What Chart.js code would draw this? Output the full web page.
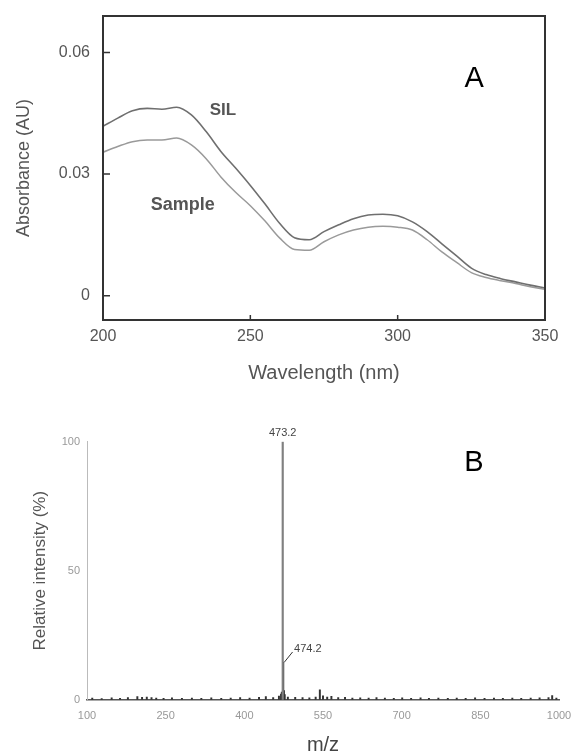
<!DOCTYPE html>
<html>
<head>
<meta charset="utf-8">
<script src="https://cdn.jsdelivr.net/npm/chart.js@4.4.1/dist/chart.umd.min.js"></script>
<style>
  html, body { margin: 0; padding: 0; background: #fff; overflow: hidden; }
  #boxA { position: absolute; left: 0; top: 0; width: 574px; height: 390px; }
  #boxB { position: absolute; left: 0; top: 390px; width: 574px; height: 373px; }
</style>
</head>
<body>
<div id="boxA"><canvas id="chartA"></canvas></div>
<div id="boxB"><canvas id="chartB"></canvas></div>
<script>
// Panel A - UV spectra
const wavelength = [200, 205, 210, 215, 220, 225, 230, 235, 240, 245, 250, 255, 260, 265, 270, 275,
                    280, 285, 290, 295, 300, 305, 310, 315, 320, 325, 330, 335, 340, 345, 350];
const silAbs = [0.0418, 0.0438, 0.0456, 0.0462, 0.0460, 0.0465, 0.0446, 0.0405, 0.0356, 0.0315, 0.0272,
                0.0226, 0.0178, 0.0143, 0.0138, 0.0158, 0.0175, 0.0190, 0.0199, 0.0201, 0.0197, 0.0182,
                0.0158, 0.0128, 0.0098, 0.0068, 0.0052, 0.0042, 0.0034, 0.0026, 0.0019];
const sampleAbs = [0.0354, 0.0368, 0.0380, 0.0384, 0.0384, 0.0389, 0.0372, 0.0338, 0.0293, 0.0255, 0.0222,
                   0.0184, 0.0142, 0.0114, 0.0112, 0.0133, 0.0150, 0.0162, 0.0169, 0.0171, 0.0169, 0.0162,
                   0.0138, 0.0108, 0.0082, 0.0057, 0.0045, 0.0037, 0.0030, 0.0022, 0.0016];
const absTicks = [0, 0.03, 0.06];

// Panel B - mass spectrum
const basePeakMz = [473.2];
const basePeakInt = [100];
const ionMz = [110, 128, 147, 163, 178, 196, 205, 214, 223, 232, 246, 262, 281, 300, 318, 337, 356, 374,
               392, 410, 428, 441, 455, 466, 470, 471.5, 474.2, 475.5, 477, 483, 497, 511, 524, 536, 544,
               550, 558, 566, 579, 592, 606, 621, 637, 652, 668, 685, 701, 718, 736, 752, 770, 788, 805,
               822, 840, 858, 876, 893, 911, 928, 946, 963, 980, 987, 995];
const ionInt = [0.6, 0.4, 0.7, 0.5, 0.8, 1.2, 0.9, 1.0, 0.8, 0.6, 0.5, 0.7, 0.5, 0.6, 0.5, 0.7, 0.5, 0.6,
                0.8, 0.6, 0.9, 1.2, 0.8, 1.4, 2.2, 3.0, 14.5, 3.5, 2.0, 1.0, 0.9, 0.8, 0.7, 1.0, 3.8,
                1.5, 1.0, 1.3, 0.8, 0.9, 0.6, 0.7, 0.6, 0.8, 0.6, 0.5, 0.7, 0.5, 0.7, 0.5, 0.6, 0.5, 0.6,
                0.5, 0.7, 0.5, 0.6, 0.5, 0.6, 0.5, 0.6, 0.7, 0.8, 1.6, 0.6];

const fuente = 'Arial, "Liberation Sans", sans-serif';

// text placed in data coordinates
const notasA = [
  { text: 'A', x: 326, y: 0.0534, size: 29, weight: 'normal', color: '#000' },
  { text: 'SIL', x: 240.7, y: 0.0458, size: 17, weight: 'bold', color: '#555' },
  { text: 'Sample', x: 227.1, y: 0.0224, size: 18, weight: 'bold', color: '#555' }
];
const notasB = [
  { text: 'B', x: 838, y: 91.7, size: 29, weight: 'normal', color: '#000' },
  { text: '473.2', x: 473.2, y: 100, dy: -9, size: 11, weight: 'normal', color: '#444' },
  { text: '474.2', x: 521, y: 19.6, size: 11, weight: 'normal', color: '#444' }
];

// no extra padding from tick labels: keep the plot area where the layout puts it
function sinRelleno(s) {
  s.paddingTop = 0;
  s.paddingBottom = 0;
  s.paddingLeft = 0;
  s.paddingRight = 0;
}

function escribir(chart, notas) {
  const {ctx, scales: {x, y}} = chart;
  ctx.save();
  ctx.textAlign = 'center';
  ctx.textBaseline = 'middle';
  notas.forEach(n => {
    ctx.font = n.weight + ' ' + n.size + 'px ' + fuente;
    ctx.fillStyle = n.color;
    ctx.fillText(n.text, x.getPixelForValue(n.x), y.getPixelForValue(n.y) + (n.dy || 0));
  });
  ctx.restore();
}

const marcoA = {
  id: 'marcoA',
  afterDatasetsDraw(chart) {
    const {ctx, chartArea: a, scales: {x, y}} = chart;
    ctx.save();
    ctx.strokeStyle = '#333';
    ctx.lineWidth = 2;
    ctx.strokeRect(a.left, a.top, a.right - a.left, a.bottom - a.top);
    ctx.lineWidth = 1.5;
    ctx.beginPath();
    y.ticks.forEach(t => {
      const py = y.getPixelForValue(t.value);
      ctx.moveTo(a.left, py);
      ctx.lineTo(a.left + 7, py);
    });
    x.ticks.forEach(t => {
      const px = x.getPixelForValue(t.value);
      ctx.moveTo(px, a.bottom);
      ctx.lineTo(px, a.bottom - 5);
    });
    ctx.stroke();
    ctx.restore();
    escribir(chart, notasA);
  }
};

const notasPluginB = {
  id: 'notasB',
  afterDatasetsDraw(chart) {
    const {ctx, scales: {x, y}} = chart;
    // leader line for 474.2
    ctx.save();
    ctx.strokeStyle = '#333';
    ctx.lineWidth = 1;
    ctx.beginPath();
    ctx.moveTo(x.getPixelForValue(474.2) + 1, y.getPixelForValue(14.5));
    ctx.lineTo(x.getPixelForValue(492), y.getPixelForValue(18.5));
    ctx.stroke();
    ctx.restore();
    escribir(chart, notasB);
  }
};

new Chart(document.getElementById('chartA'), {
  type: 'line',
  data: {
    datasets: [
      {
        label: 'SIL',
        data: wavelength.map((w, i) => ({ x: w, y: silAbs[i] })),
        borderColor: '#6f6f6f',
        borderWidth: 1.6,
        pointRadius: 0,
        cubicInterpolationMode: 'monotone'
      },
      {
        label: 'Sample',
        data: wavelength.map((w, i) => ({ x: w, y: sampleAbs[i] })),
        borderColor: '#9a9a9a',
        borderWidth: 1.5,
        pointRadius: 0,
        cubicInterpolationMode: 'monotone'
      }
    ]
  },
  options: {
    responsive: true,
    maintainAspectRatio: false,
    animation: false,
    layout: { padding: { left: 0, right: 29, top: 16, bottom: 0 } },
    plugins: { legend: { display: false }, tooltip: { enabled: false } },
    scales: {
      x: {
        type: 'linear',
        min: 200,
        max: 350,
        ticks: { stepSize: 50, padding: 7, color: '#555', font: { family: fuente, size: 16 } },
        grid: { display: false, drawTicks: false },
        border: { display: false },
        title: { display: true, text: 'Wavelength (nm)', color: '#555', padding: { top: 0, bottom: 5 },
                 font: { family: fuente, size: 20 } },
        afterFit: s => { s.height = 70; sinRelleno(s); }
      },
      y: {
        min: -0.006,
        max: 0.069,
        afterBuildTicks: s => { s.ticks = absTicks.map(v => ({ value: v })); },
        ticks: { padding: 13, color: '#555', font: { family: fuente, size: 16 },
                 callback: v => (v === 0 ? '0' : v.toFixed(2)) },
        grid: { display: false, drawTicks: false },
        border: { display: false },
        title: { display: true, text: 'Absorbance (AU)', color: '#555', padding: { top: 13, bottom: 0 },
                 font: { family: fuente, size: 18 } },
        afterFit: s => { s.width = 103; sinRelleno(s); }
      }
    }
  },
  plugins: [marcoA]
});

new Chart(document.getElementById('chartB'), {
  type: 'bar',
  data: {
    datasets: [
      {
        label: 'base peak',
        data: basePeakMz.map((m, i) => ({ x: m, y: basePeakInt[i] })),
        backgroundColor: '#808080',
        barThickness: 1.5,
        grouped: false
      },
      {
        label: 'ions',
        data: ionMz.map((m, i) => ({ x: m, y: ionInt[i] })),
        backgroundColor: '#333',
        barThickness: 1.3,
        grouped: false
      }
    ]
  },
  options: {
    responsive: true,
    maintainAspectRatio: false,
    animation: false,
    layout: { padding: { left: 0, right: 15, top: 51.7, bottom: 0 } },
    plugins: { legend: { display: false }, tooltip: { enabled: false } },
    scales: {
      x: {
        type: 'linear',
        offset: false,
        min: 100,
        max: 1000,
        ticks: { stepSize: 150, padding: 10, color: '#999', maxRotation: 0, font: { family: fuente, size: 11 },
                 callback: v => String(v) },
        grid: { display: false, drawTicks: false },
        border: { display: true, color: '#555', width: 1.6, dash: [3, 2] },
        title: { display: true, text: 'm/z', color: '#444', padding: { top: 0, bottom: 6 },
                 font: { family: fuente, size: 20 } },
        afterFit: s => { s.height = 63.3; sinRelleno(s); }
      },
      y: {
        min: 0,
        max: 100,
        ticks: { stepSize: 50, padding: 7, color: '#999', font: { family: fuente, size: 11 } },
        grid: { display: false, drawTicks: false },
        border: { display: true, color: '#bbb', width: 1 },
        title: { display: true, text: 'Relative intensity (%)', color: '#555', padding: { top: 30, bottom: 0 },
                 font: { family: fuente, size: 17 } },
        afterFit: s => { s.width = 87; sinRelleno(s); }
      }
    }
  },
  plugins: [notasPluginB]
});
</script>
</body>
</html>
